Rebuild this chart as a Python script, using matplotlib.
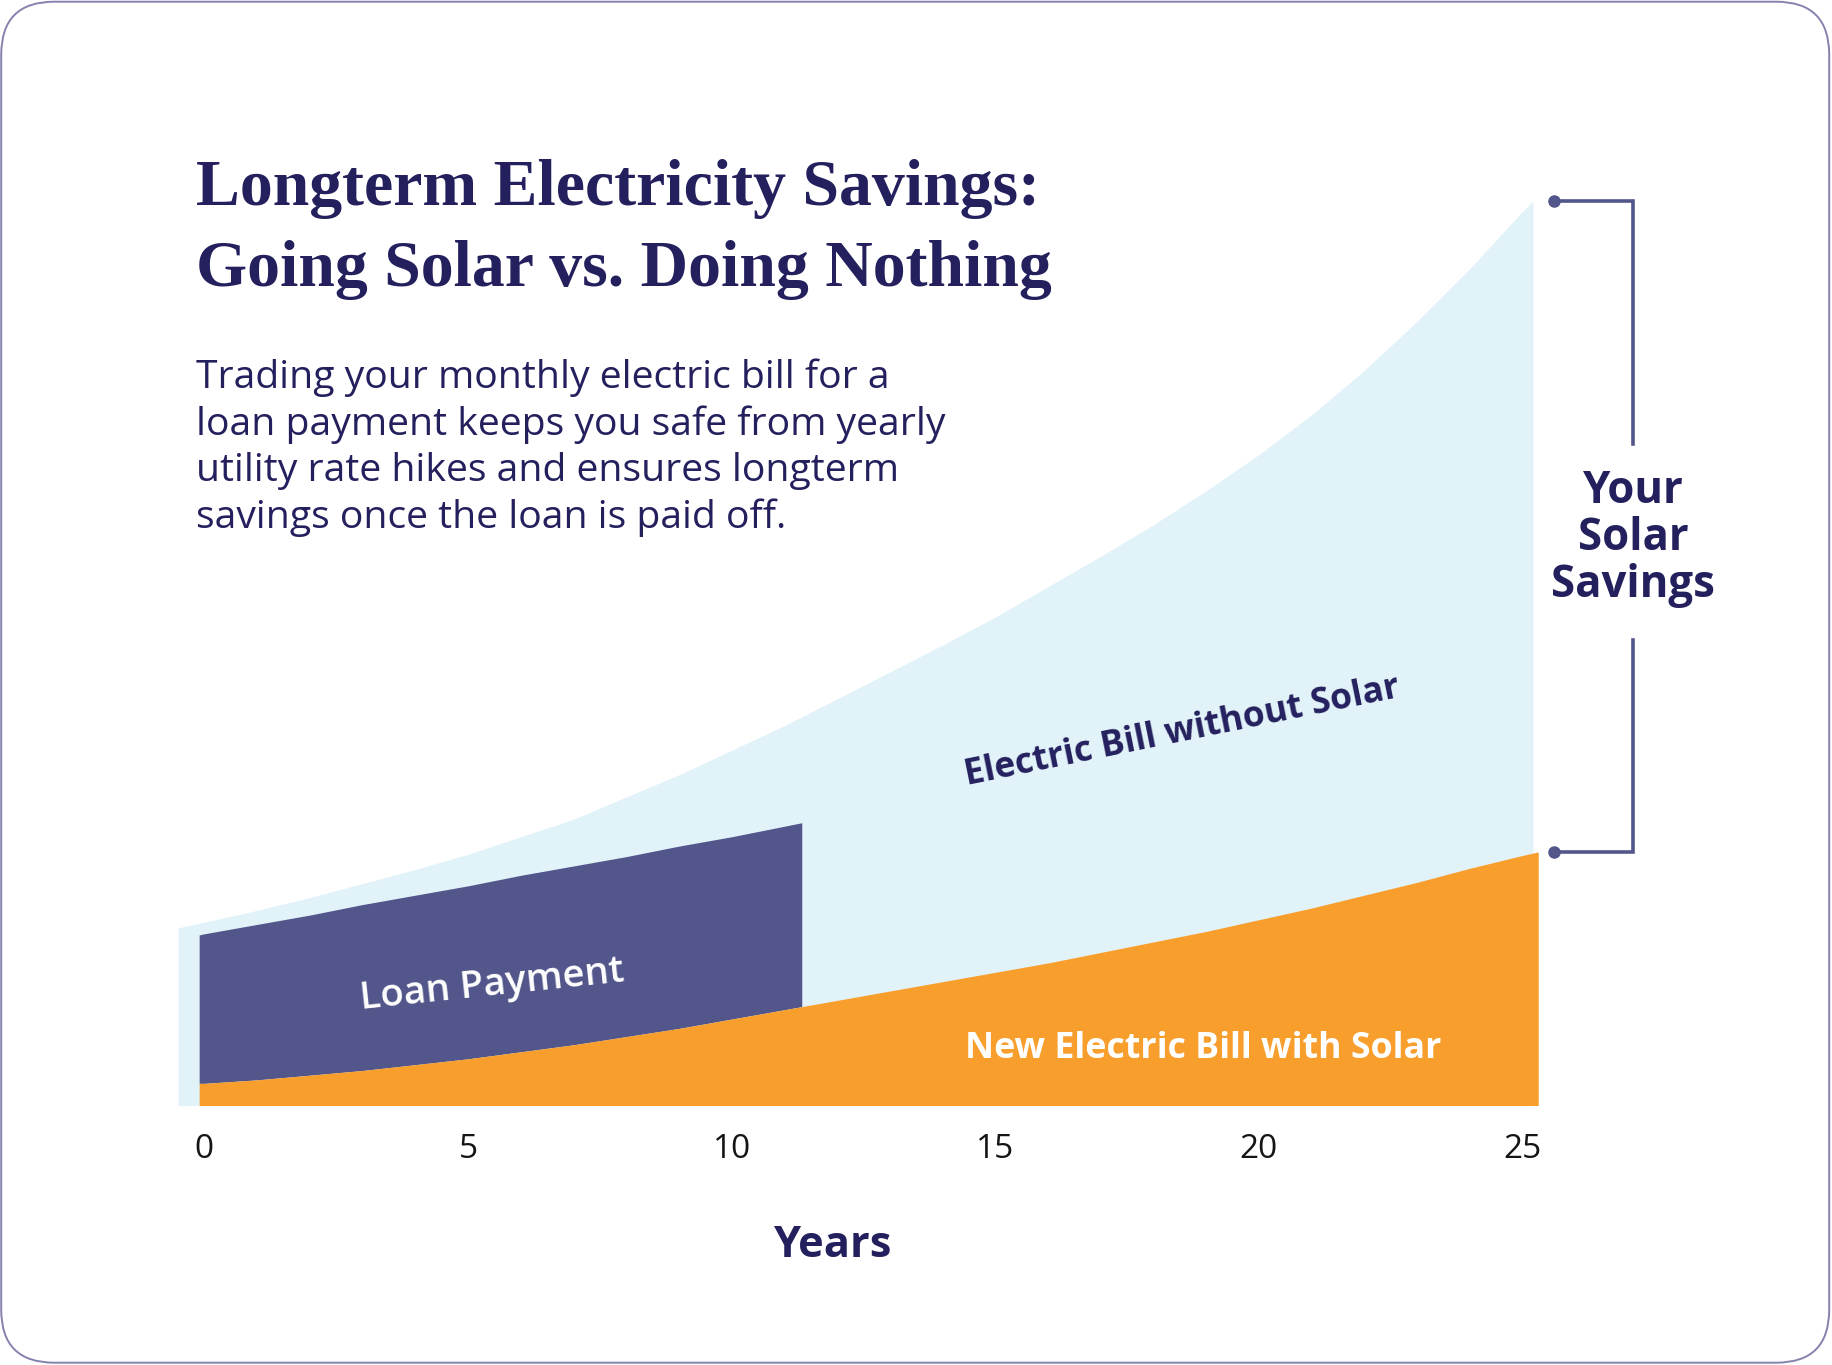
import matplotlib.pyplot as plt
import numpy as np
from matplotlib.patches import FancyBboxPatch

# monthly bill (arbitrary $ units)
years_no_solar = [-0.5, 0, 1, 2, 3, 4, 5, 6, 7, 8, 9, 10, 11, 12, 13, 14, 15, 16,
                  17, 18, 19, 20, 21, 22, 23, 24, 25, 25.2]
bill_no_solar = [152, 157, 167, 178, 190, 202, 215, 230, 245, 264, 283, 304, 325, 348,
                 371, 394, 418, 444, 470, 497, 526, 557, 591, 629, 671, 716, 765, 774]

years_solar = [-0.1, 0, 1, 2, 3, 4, 5, 6, 7, 8, 9, 10, 11, 12, 13, 14, 15, 16,
               17, 18, 19, 20, 21, 22, 23, 24, 25, 25.3]
bill_solar = [19, 19, 22, 26, 30, 35, 40, 46, 52, 59, 66, 74, 82, 90,
              98, 106, 114, 122, 131, 140, 149, 159, 169, 180, 191, 203, 214, 217]

years_loan = [-0.1, 0, 1, 2, 3, 4, 5, 6, 7, 8, 9, 10, 11, 11.33]
loan_top = [146, 147, 155, 163, 172, 180, 188, 197, 205, 213, 222, 230, 239, 242]

xticks = [0, 5, 10, 15, 20, 25]

NAVY = '#24205e'
LOAN = '#52568a'
LIGHT = '#e1f2f9'
ORANGE = '#f89e2d'
SANS = ['Open Sans', 'DejaVu Sans']

# layout measured on a 1568x1168 copy of the reference
W, H = 1568, 1168
SCALE = 1832 / W


def fx(x):
    return x / W


def fy(y):
    return 1 - y / H


fig = plt.figure(figsize=(18.32, 13.65), dpi=100)
fig.patch.set_facecolor('white')

# rounded card border
border = FancyBboxPatch((0.012, 0.023), 18.28, 13.61,
                        boxstyle='round,pad=0,rounding_size=0.53',
                        transform=fig.dpi_scale_trans, facecolor='none',
                        edgecolor='#8583ad', linewidth=1.4, zorder=-1)
fig.patches.append(border)

ax = fig.add_axes([fx(147.9), fy(946), 1177.7 / W, 800 / H])
ax.set_facecolor('none')
ax.set_xlim(-0.6, 25.5)
ax.set_ylim(0, 800)

ax.fill_between(years_no_solar, 0, bill_no_solar, color=LIGHT, linewidth=0, zorder=1)
solar_under_loan = np.interp(years_loan, years_solar, bill_solar)
ax.fill_between(years_loan, solar_under_loan, loan_top, color=LOAN, linewidth=0, zorder=2)
ax.fill_between(years_solar, 0, bill_solar, color=ORANGE, linewidth=0, zorder=3)

for s in ax.spines.values():
    s.set_visible(False)
ax.set_yticks([])
ax.set_xticks(xticks)
ax.set_xticklabels([str(t) for t in xticks], family=SANS)
ax.tick_params(axis='x', length=0, pad=20, labelsize=24, labelcolor='#151515')

# bracket for savings
top = bill_no_solar[-1]
bot = bill_solar[-1]
xd, xv = 25.6, 27.1
gap_lo, gap_hi = 398, 566
ax.plot([xd, xv, xv], [top, top, gap_hi], color=LOAN, lw=2.6, clip_on=False,
        solid_joinstyle='miter', zorder=4)
ax.plot([xd, xv, xv], [bot, bot, gap_lo], color=LOAN, lw=2.6, clip_on=False,
        solid_joinstyle='miter', zorder=4)
ax.plot([xd, xd], [top, bot], 'o', color=LOAN, ms=8, clip_on=False, zorder=5)

fig.canvas.draw()
renderer = fig.canvas.get_renderer()


def fit(t, width_disp):
    w = t.get_window_extent(renderer).width
    t.set_fontsize(t.get_fontsize() * width_disp * SCALE / w)
    return t.get_fontsize()


# title
t1 = fig.text(fx(168), fy(175), 'Longterm Electricity Savings:', family='Liberation Serif',
              weight='bold', fontsize=44, color=NAVY, va='baseline')
size = fit(t1, 722)
fig.text(fx(168), fy(245), 'Going Solar vs. Doing Nothing', family='Liberation Serif',
         weight='bold', fontsize=size, color=NAVY, va='baseline')

# subtitle
lines = ['Trading your monthly electric bill for a',
         'loan payment keeps you safe from yearly',
         'utility rate hikes and ensures longterm',
         'savings once the loan is paid off.']
base = [332, 372, 412, 452]
sub = []
for txt, b in zip(lines, base):
    sub.append(fig.text(fx(168), fy(b), txt, family=SANS, weight='medium', fontsize=24,
                        color=NAVY, va='baseline'))
size = fit(sub[1], 643)
for t in sub:
    t.set_fontsize(size)

# area labels
t = fig.text(fx(421), fy(843), 'Loan Payment', family=SANS, weight='semibold', fontsize=24,
             color='white', ha='center', va='center', rotation_mode='anchor')
fit(t, 228)
t.set_rotation(6)

t = fig.text(fx(1012), fy(626), 'Electric Bill without Solar', family=SANS, weight='bold',
             fontsize=24, color=NAVY, ha='center', va='center', rotation_mode='anchor')
fit(t, 380)
t.set_rotation(11.5)

t = fig.text(fx(826), fy(905), 'New Electric Bill with Solar', family=SANS, weight='bold',
             fontsize=24, color='white', va='baseline')
fit(t, 409)

# savings label
sv = []
for txt, b in zip(['Your', 'Solar', 'Savings'], [430, 471, 511]):
    sv.append(fig.text(fx(1398), fy(b), txt, family=SANS, weight='bold', fontsize=28,
                       color=NAVY, ha='center', va='baseline'))
size = fit(sv[2], 140)
for t in sv:
    t.set_fontsize(size)

t = fig.text(fx(712), fy(1076), 'Years', family=SANS, weight='bold', fontsize=30,
             color=NAVY, ha='center', va='baseline')
fit(t, 101)

fig.savefig('out.png', dpi=100, facecolor='white')
